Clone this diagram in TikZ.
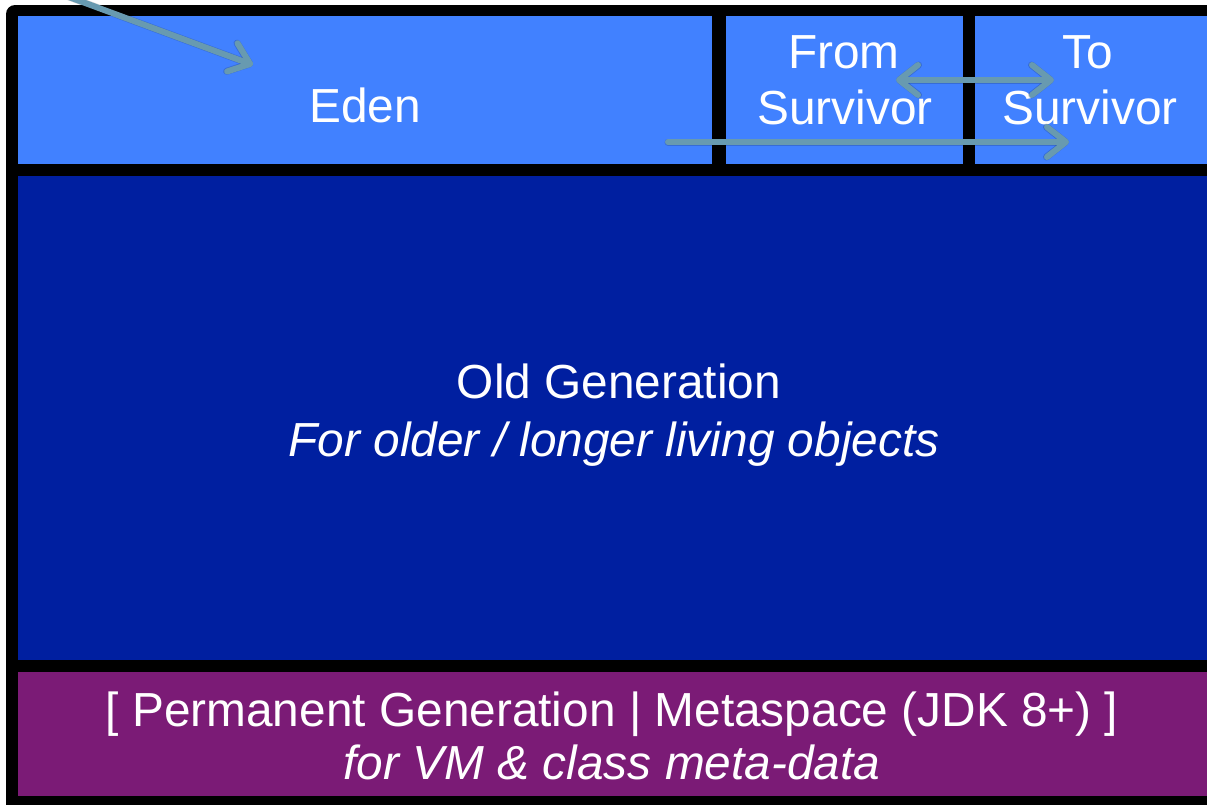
\documentclass[tikz,border=0pt]{standalone}
\usepackage{fontspec}
\setmainfont{Liberation Sans}
\usetikzlibrary{arrows.meta}
\definecolor{edenblue}{RGB}{65,129,255}
\definecolor{oldblue}{RGB}{0,31,160}
\definecolor{permpurple}{RGB}{123,27,118}
\definecolor{flow}{RGB}{104,154,176}
\tikzset{
  region/.style={draw=none, inner sep=0pt, outer sep=0pt, anchor=north west},
  label/.style={text=white, inner sep=0pt, anchor=base, font=\fontsize{47.8}{56}\selectfont},
  ilabel/.style={label, font=\fontsize{47.8}{56}\selectfont\itshape},
  barb/.tip={Straight Barb[round, length=19pt, width=30pt]},
  flowarrow/.style={draw=flow, line width=6pt, line cap=round},
  flowshadow/.style={draw=black, opacity=0.16, line width=7pt, line cap=round},
}
\begin{document}
\begin{tikzpicture}[x=1pt, y=-1pt]
  \useasboundingbox (0,0) rectangle (1207,804);
  \clip (0,0) rectangle (1207,804);
  \fill[white] (0,0) rectangle (1207,804);

  % heap frame
  \fill[black, rounded corners=9pt] (6,5) rectangle (1240,830);

  % young generation
  \node[region, fill=edenblue, minimum width=694pt, minimum height=148pt] (eden) at (18,16) {};
  \node[region, fill=edenblue, minimum width=237pt, minimum height=148pt] (from) at (726,16) {};
  \node[region, fill=edenblue, minimum width=240pt, minimum height=148pt] (to) at (975,16) {};

  % old generation
  \node[region, fill=oldblue, minimum width=1200pt, minimum height=484pt] (old) at (18,176) {};

  % permanent generation / metaspace
  \node[region, fill=permpurple, minimum width=1200pt, minimum height=124pt] (perm) at (18,672) {};

  % labels
  \node[label] (edenlbl) at (365,122) {Eden};
  \node[label] (fromlbl1) at (844,68) {From};
  \node[label] (fromlbl2) at (845,124) {Survivor};
  \node[label] (tolbl1) at (1088,68) {To};
  \node[label] (tolbl2) at (1090,124) {Survivor};
  \node[label] (oldlbl1) at (619,398) {Old Generation};
  \node[ilabel] (oldlbl2) at (614,456) {For older / longer living objects};
  \node[label] (permlbl1) at (612,726) {[ Permanent Generation | Metaspace (JDK 8+) ]};
  \node[ilabel] (permlbl2) at (612,779) {for VM \& class meta-data};

  % object flow
  \coordinate (alloc) at (50,-10);
  \coordinate (edenin) at (253,65);
  \coordinate (fromend) at (896,80);
  \coordinate (toend) at (1054,80);
  \coordinate (edenout) at (668,142);
  \coordinate (tonew) at (1069,142);

  \begin{scope}[shift={(2,3)}]
    \draw[flowshadow, -barb] (alloc) -- (edenin);
    \draw[flowshadow, barb-barb] (fromend) -- (toend);
    \draw[flowshadow, -barb] (edenout) -- (tonew);
  \end{scope}
  \draw[flowarrow, -barb] (alloc) -- (edenin);
  \draw[flowarrow, barb-barb] (fromend) -- (toend);
  \draw[flowarrow, -barb] (edenout) -- (tonew);
\end{tikzpicture}
\end{document}
